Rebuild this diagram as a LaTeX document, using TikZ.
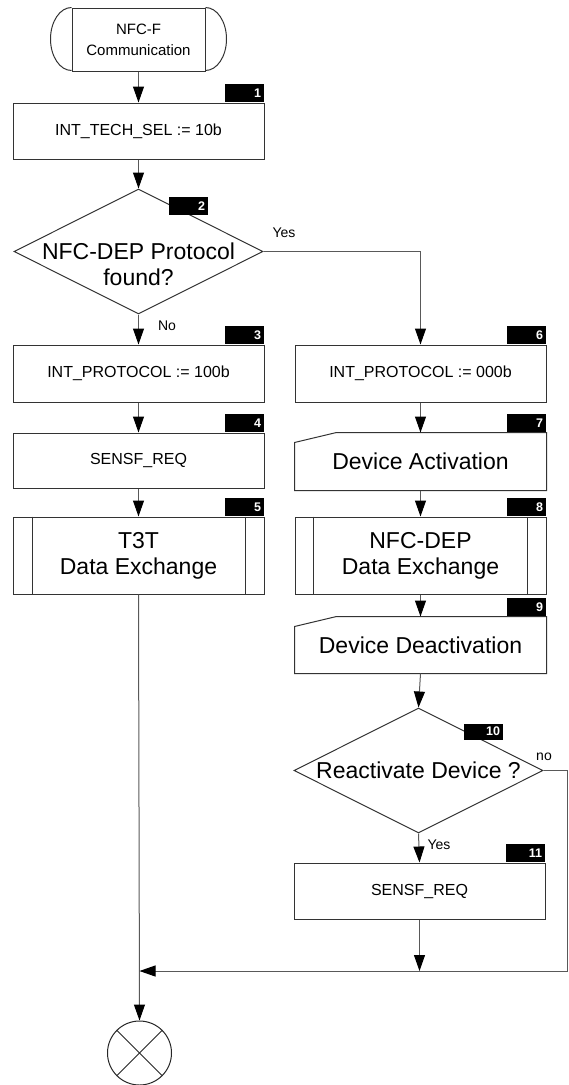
\documentclass[tikz,border=0pt]{standalone}
\usepackage{fontspec}
\setmainfont{Liberation Sans}
\usepackage{tikz}
\usetikzlibrary{arrows.meta,shapes.geometric,calc}

\begin{document}
\begin{tikzpicture}[x=1pt,y=-1pt,line width=1pt]

	\tikzstyle{proc}=[rectangle,draw=black!80,minimum width=251pt,inner sep=0pt,align=center,font=\fontsize{16}{19}\selectfont]
	\tikzstyle{big}=[font=\fontsize{23}{26}\selectfont]
	\tikzstyle{manual}=[rectangle,minimum width=251pt,inner sep=0pt,align=center,font=\fontsize{23}{26}\selectfont]
	\tikzstyle{decide}=[diamond,draw=black!80,minimum width=249pt,minimum height=125pt,inner sep=0pt]
	\tikzstyle{tag}=[rectangle,fill=black,text=white,anchor=south east,minimum width=39pt,minimum height=18pt,inner sep=0pt,align=right,text width=33pt,font=\fontsize{12.5}{13}\selectfont\bfseries]
	\tikzstyle{lbl}=[font=\fontsize{14}{16}\selectfont]
	\tikzstyle{arr}=[draw=black!65,-{Triangle[length=16pt,width=11pt,color=black]}]

	\useasboundingbox (0,0) rectangle (568,1085);

	% left column
	\node[rectangle,draw=black!80,minimum width=133pt,minimum height=63pt,inner sep=0pt,align=center,font=\fontsize{15}{21}\selectfont] (start) at (138.5,39.5) {NFC-F\\Communication};
	\draw[black!80] (start.north west) arc (90:270:21pt and 31.5pt);
	\draw[black!80] (start.north east) arc (90:-90:21pt and 31.5pt);

	\node[proc,minimum height=56pt] (b1) at (138.5,131) {INT\_TECH\_SEL := 10b};
	\node[tag] (t1) at (b1.north east) {1};

	\node[decide,label={[big,align=center,yshift=-13pt]center:NFC-DEP Protocol\\found?}] (q2) at (138.5,251.5) {};
	\node[tag,anchor=center] (t2) at ($(q2)+(50,-45.5)$) {2};

	\node[proc,minimum height=57pt] (b3) at (138.5,373.5) {INT\_PROTOCOL := 100b};
	\node[tag] (t3) at (b3.north east) {3};

	\node[proc,minimum height=55pt] (b4) at (138.5,460.5) {SENSF\_REQ};
	\node[tag] (t4) at (b4.north east) {4};

	\node[proc,big,minimum height=77pt] (b5) at (138.5,555.5) {T3T\\Data Exchange};
	\node[tag] (t5) at (b5.north east) {5};
	\draw[black!80] ($(b5.north west)+(20,0)$) -- ($(b5.south west)+(20,0)$);
	\draw[black!80] ($(b5.north east)+(-19,0)$) -- ($(b5.south east)+(-19,0)$);

	% right column
	\node[proc,minimum height=57pt] (b6) at (420.5,373.5) {INT\_PROTOCOL := 000b};
	\node[tag] (t6) at (b6.north east) {6};

	\node[manual,minimum height=57pt] (b7) at (420.5,461.5) {Device Activation};
	\draw[black!80] (b7.south west) -- ($(b7.north west)+(0,10)$) -- ($(b7.north west)+(42,0)$) -- (b7.north east) -- (b7.south east) -- cycle;
	\node[tag] (t7) at (b7.north east) {7};

	\node[proc,big,minimum height=77pt] (b8) at (420.5,555.5) {NFC-DEP\\Data Exchange};
	\node[tag] (t8) at (b8.north east) {8};
	\draw[black!80] ($(b8.north west)+(19,0)$) -- ($(b8.south west)+(19,0)$);
	\draw[black!80] ($(b8.north east)+(-19,0)$) -- ($(b8.south east)+(-19,0)$);

	\node[manual,minimum height=56pt] (b9) at (420.5,645) {Device Deactivation};
	\draw[black!80] (b9.south west) -- ($(b9.north west)+(0,10)$) -- ($(b9.north west)+(42,0)$) -- (b9.north east) -- (b9.south east) -- cycle;
	\node[tag] (t9) at (b9.north east) {9};

	\node[decide,label={[big]center:Reactivate Device ?}] (q10) at (418.5,770.5) {};
	\node[tag,anchor=center,minimum height=16pt] (t10) at ($(q10)+(65,-39)$) {10};

	\node[proc,minimum height=56pt] (b11) at (419.5,891) {SENSF\_REQ};
	\node[tag] (t11) at (b11.north east) {11};

	\node[circle,draw=black!85,minimum size=64pt,inner sep=0pt] (stop) at (139.5,1053) {};
	\draw[black!85] (stop.north west) -- (stop.south east);
	\draw[black!85] (stop.north east) -- (stop.south west);

	\coordinate (r1) at (567,770.5);
	\coordinate (j1) at (139.5,971);
	\coordinate (j2) at (b11.south |- j1);

	% connectors
	\draw[arr] (start.south) -- (b1.north);
	\draw[arr] (b1.south) -- (q2.north);
	\draw[arr] (q2.south) -- (b3.north);
	\draw[arr] (b3.south) -- (b4.north);
	\draw[arr] (b4.south) -- (b5.north);
	\draw[arr] (b5.south) -- (stop.north);
	\draw[arr] (q2.east) -| (b6.north);
	\draw[arr] (b6.south) -- (b7.north);
	\draw[arr] (b7.south) -- (b8.north);
	\draw[arr] (b8.south) -- (b9.north);
	\draw[arr] (b9.south) -- (q10.north);
	\draw[arr] (q10.south) -- (b11.north);
	\draw[arr] (b11.south) -- (j2);
	\draw[arr] (q10.east) -- (r1) |- (j1);

	\node[lbl] (yes1) at (284,233) {Yes};
	\node[lbl] (no1) at (167,326) {No};
	\node[lbl] (no2) at (544,757) {no};
	\node[lbl] (yes2) at (439,845) {Yes};

\end{tikzpicture}
\end{document}
